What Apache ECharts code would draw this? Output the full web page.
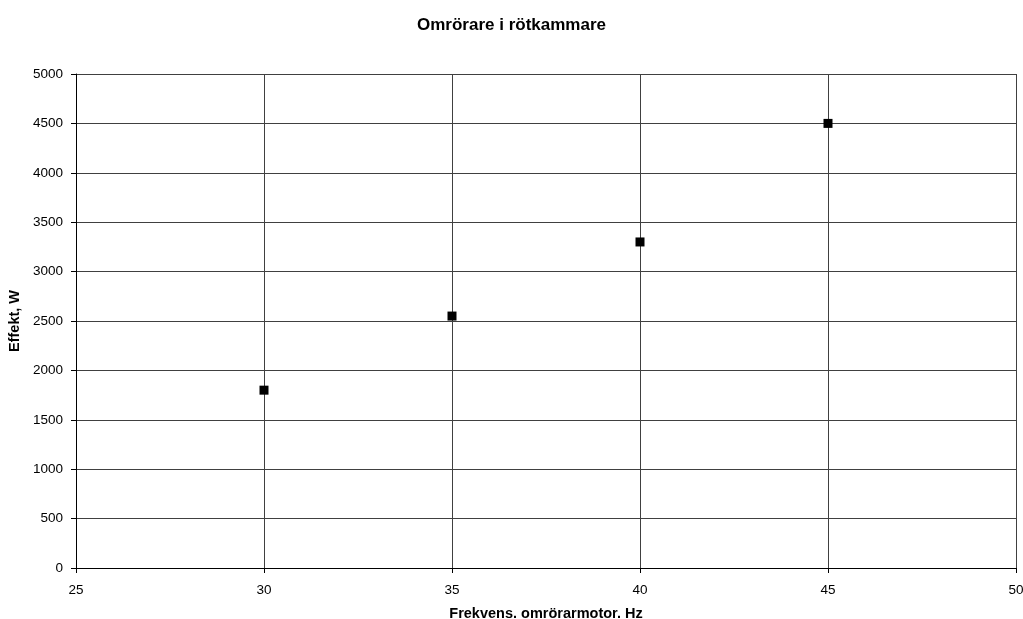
<!DOCTYPE html>
<html><head><meta charset="utf-8">
<script src="https://cdn.jsdelivr.net/npm/echarts@6/dist/echarts.min.js"></script>
<style>html,body{margin:0;padding:0;background:#fff}#c{width:1023px;height:619px}</style>
</head><body><div id="c"></div>
<script>
const frequency = [30, 35, 40, 45];
const power = [1800, 2550, 3300, 4500];
const chart = echarts.init(document.getElementById('c'));
const font = 'Liberation Sans, Arial, sans-serif';
chart.setOption({
  animation: false,
  title: {text: 'Omrörare i rötkammare', left: 'center', top: 12,
    textStyle: {fontFamily: font, fontSize: 17, fontWeight: 'bold', color: '#000'}},
  grid: {left: 76, right: 7, top: 74, bottom: 51, containLabel: false, outerBoundsMode: 'none'},
  xAxis: {type: 'value', min: 25, max: 50, interval: 5,
    name: 'Frekvens. omrörarmotor. Hz', nameLocation: 'middle', nameGap: 38,
    nameTextStyle: {fontFamily: font, fontSize: 14.5, fontWeight: 'bold', color: '#000'},
    axisLine: {show: true, lineStyle: {color: '#000'}},
    axisTick: {show: true, length: 5, lineStyle: {color: '#000'}},
    axisLabel: {fontFamily: font, fontSize: 13.5, color: '#000', margin: 15,
      formatter: v => String(v)},
    splitLine: {show: true, lineStyle: {color: '#404040', width: 1}}},
  yAxis: {type: 'value', min: 0, max: 5000, interval: 500,
    name: 'Effekt, W', nameLocation: 'middle', nameGap: 54, nameRotate: 90,
    nameTextStyle: {fontFamily: font, fontSize: 14.5, fontWeight: 'bold', color: '#000'},
    axisLine: {show: true, lineStyle: {color: '#000'}},
    axisTick: {show: true, length: 5, lineStyle: {color: '#000'}},
    axisLabel: {fontFamily: font, fontSize: 13.5, color: '#000', margin: 13,
      formatter: v => String(v)},
    splitLine: {show: true, lineStyle: {color: '#404040', width: 1}}},
  series: [{type: 'scatter', symbol: 'rect', symbolSize: 9,
    itemStyle: {color: '#000', opacity: 1},
    data: frequency.map((f, i) => [f, power[i]])}]
});
</script></body></html>
